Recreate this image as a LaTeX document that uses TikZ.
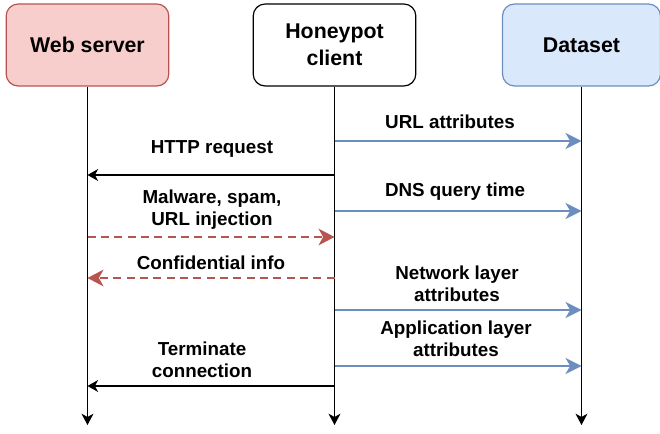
\documentclass[tikz,border=0pt]{standalone}
\usepackage{fontspec}
\setmainfont{Liberation Sans}
\usetikzlibrary{arrows.meta,calc}
\definecolor{redfill}{HTML}{F8CECC}
\definecolor{redline}{HTML}{B85450}
\definecolor{bluefill}{HTML}{DAE8FC}
\definecolor{blueline}{HTML}{6C8EBF}
\begin{document}
\begin{tikzpicture}[x=0.75pt,y=-0.75pt,
  actor/.style={draw, rounded corners=9pt, line width=0.9pt, minimum width=122pt,
    minimum height=61.5pt, inner sep=0pt, align=center,
    font=\fontsize{16}{20.5}\selectfont\bfseries},
  life/.style={draw=black, line width=0.8pt, -{Stealth[length=8.5pt,width=9pt,inset=2.5pt]}},
  blackmsg/.style={draw=black, line width=0.8pt, -{Stealth[length=8pt,width=9pt,inset=2.5pt]}},
  bluemsg/.style={draw=blueline, line width=1.5pt, -{Stealth[length=12pt,width=12pt,inset=3.5pt]}},
  redmsg/.style={draw=redline, line width=1.6pt, dash pattern=on 6pt off 4pt,
    -{Stealth[length=12pt,width=12.5pt,inset=3.5pt]}},
  msglabel/.style={inner sep=0pt, align=center, font=\fontsize{14.1}{16.5}\selectfont\bfseries}
]
\useasboundingbox (0,0) rectangle (660,434);

% participants
\node[actor, fill=redfill, draw=redline] (ws) at (87.5,45) {Web server};
\node[actor, fill=white, draw=black] (hc) at (334.5,45) {Honeypot\\client};
\node[actor, fill=bluefill, draw=blueline, minimum width=118.5pt] (ds) at (581.5,45) {Dataset};

% lifelines
\coordinate (ws-end) at (ws.south |- 0,425);
\coordinate (hc-end) at (hc.south |- 0,425);
\coordinate (ds-end) at (ds.south |- 0,425);
\draw[life] (ws.south) -- (ws-end);
\draw[life] (hc.south) -- (hc-end);
\draw[life] (ds.south) -- (ds-end);

% message end points
\coordinate (m1a) at (hc.south |- 0,141); \coordinate (m1b) at (ds.south |- 0,141);
\coordinate (m2a) at (hc.south |- 0,175); \coordinate (m2b) at (ws.south |- 0,175);
\coordinate (m3a) at (hc.south |- 0,211); \coordinate (m3b) at (ds.south |- 0,211);
\coordinate (m4a) at (ws.south |- 0,237); \coordinate (m4b) at (hc.south |- 0,237);
\coordinate (m5a) at (hc.south |- 0,278); \coordinate (m5b) at (ws.south |- 0,278);
\coordinate (m6a) at (hc.south |- 0,310); \coordinate (m6b) at (ds.south |- 0,310);
\coordinate (m7a) at (hc.south |- 0,366); \coordinate (m7b) at (ds.south |- 0,366);
\coordinate (m8a) at (hc.south |- 0,386); \coordinate (m8b) at (ws.south |- 0,386);

% messages
\draw[bluemsg] (m1a) -- (m1b);
\draw[blackmsg] (m2a) -- (m2b);
\draw[bluemsg] (m3a) -- (m3b);
\draw[redmsg] (m4a) -- (m4b);
\draw[redmsg] (m5a) -- (m5b);
\draw[bluemsg] (m6a) -- (m6b);
\draw[bluemsg] (m7a) -- (m7b);
\draw[blackmsg] (m8a) -- (m8b);

% labels
\node[msglabel] (l1) at (450,122) {URL attributes};
\node[msglabel] (l2) at (212,149) {HTTP request};
\node[msglabel] (l3) at (455,192) {DNS query time};
\node[msglabel] (l4) at (212,210) {Malware, spam,\\URL injection};
\node[msglabel] (l5) at (211,263) {Confidential info};
\node[msglabel] (l6) at (457,284) {Network layer\\attributes};
\node[msglabel] (l7) at (456,339) {Application layer\\attributes};
\node[msglabel] (l8) at (202,360) {Terminate\\connection};
\end{tikzpicture}
\end{document}
